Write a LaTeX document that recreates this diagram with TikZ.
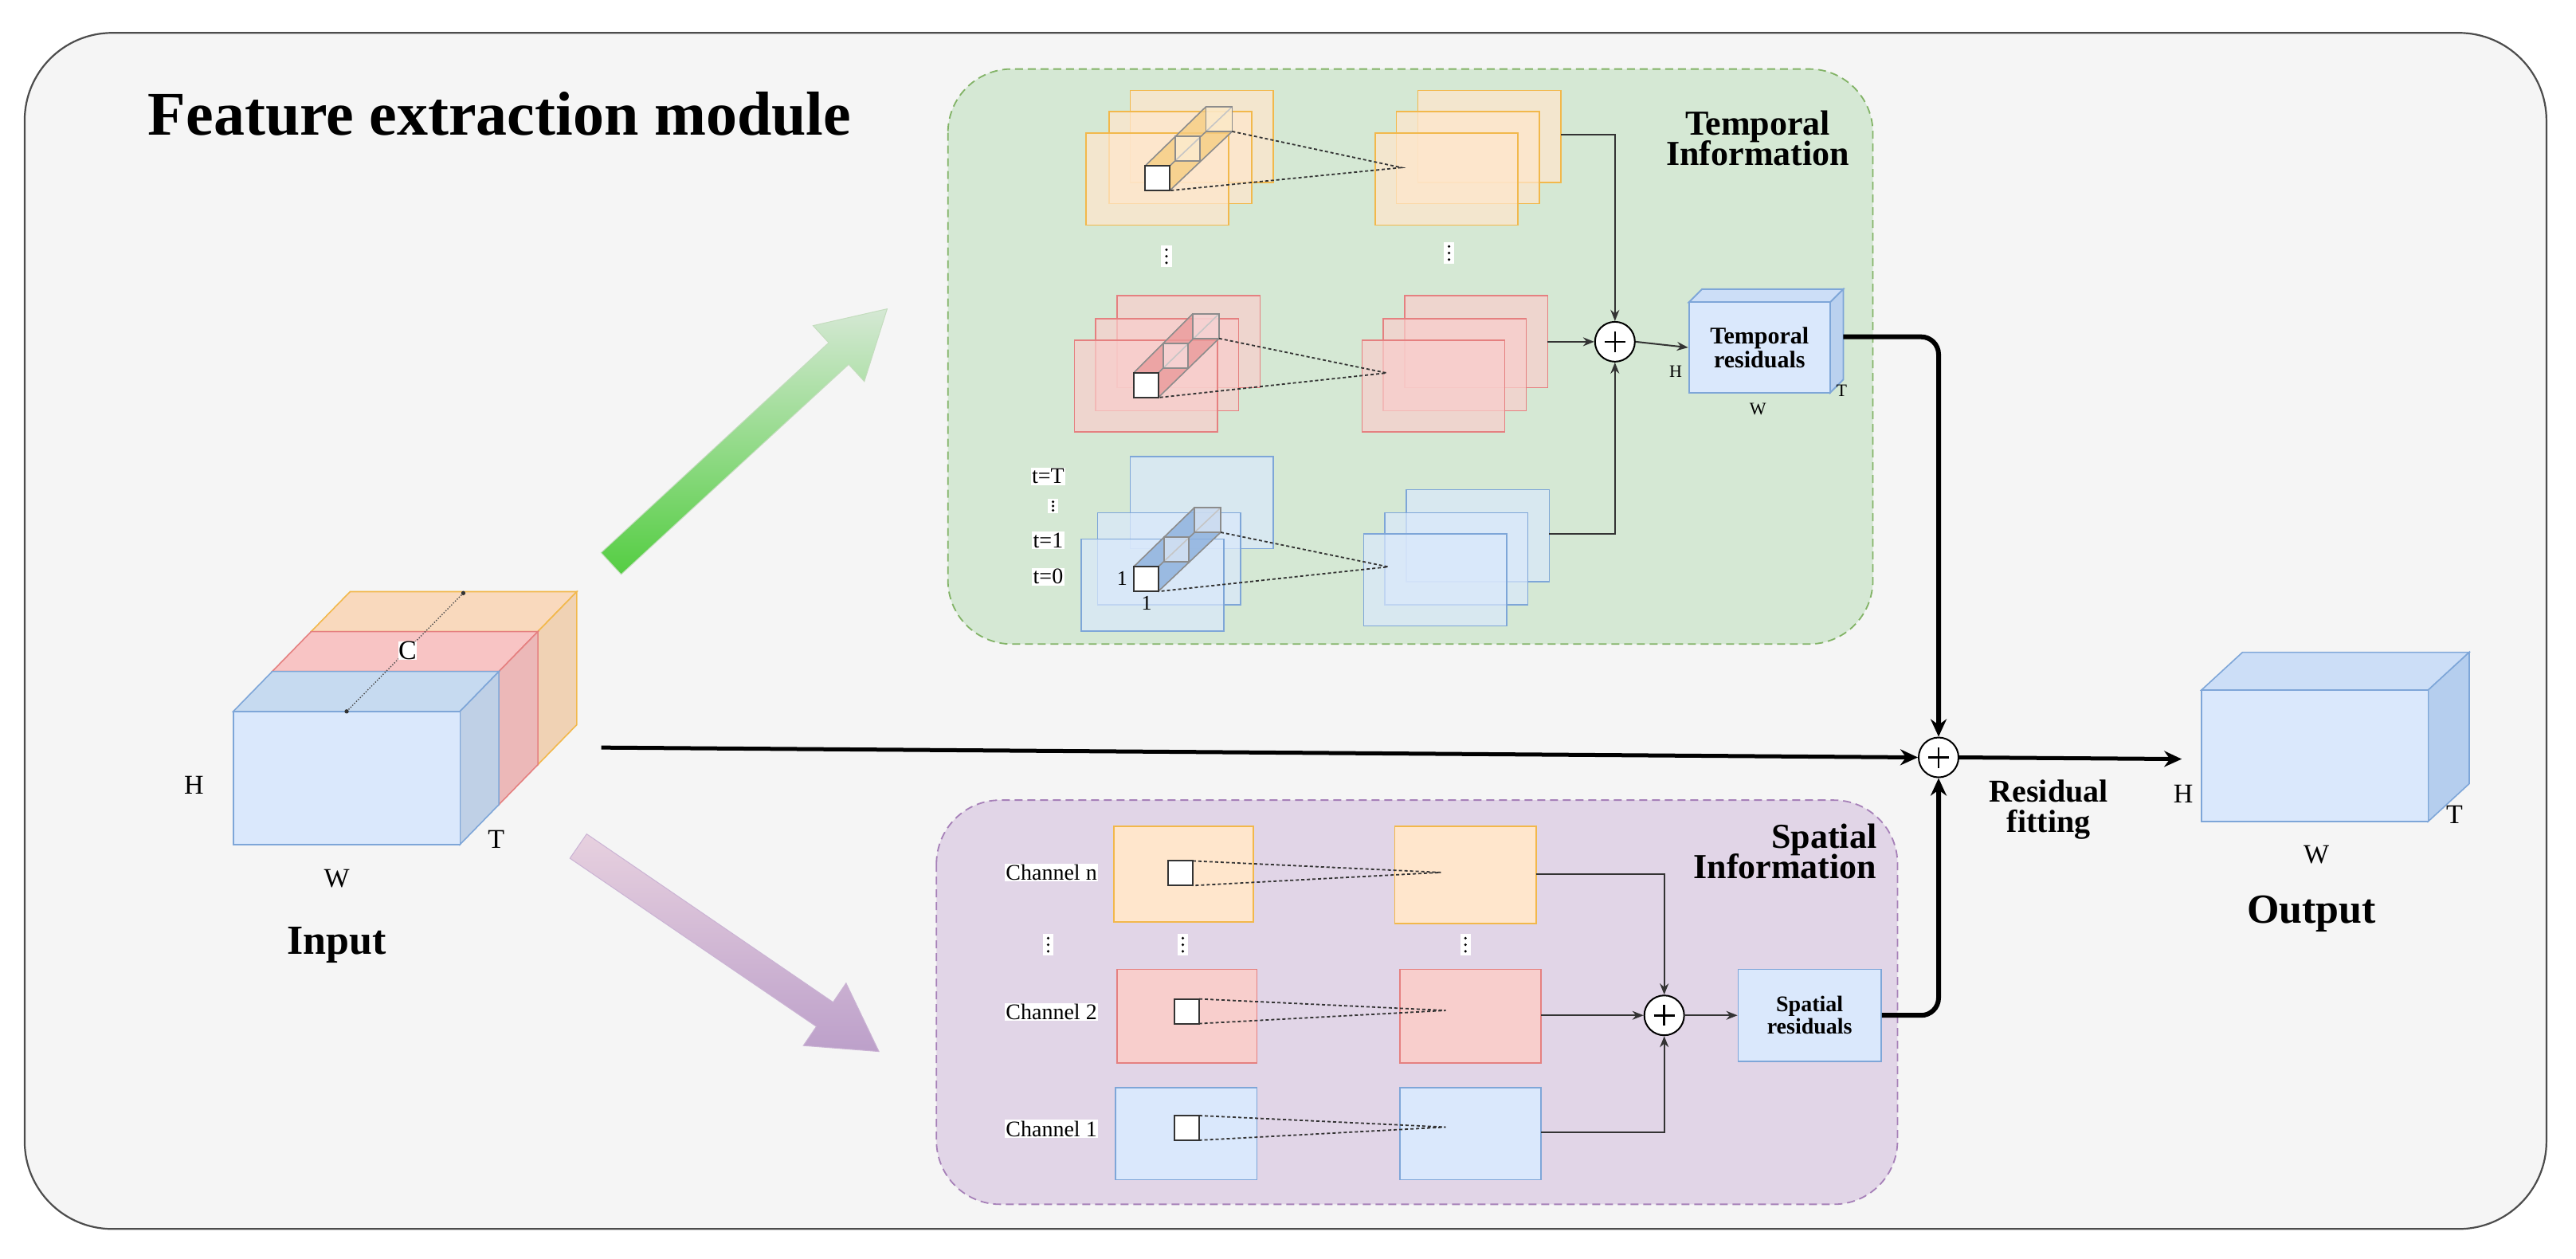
\documentclass[tikz,border=0pt]{standalone}
\usepackage{fontspec}
\setmainfont{Liberation Serif}
\usetikzlibrary{arrows.meta,calc}
\definecolor{ofill}{HTML}{FFE6CC}\definecolor{ostr}{HTML}{F2B84B}
\definecolor{rfill}{HTML}{F8CECC}\definecolor{rstr}{HTML}{E58080}
\definecolor{bfill}{HTML}{DAE8FC}\definecolor{bstr}{HTML}{7EA6D8}
\definecolor{gpanel}{HTML}{D5E8D4}\definecolor{gstr}{HTML}{82B366}
\definecolor{ppanel}{HTML}{E1D5E7}\definecolor{pstr}{HTML}{A680B8}
\definecolor{bgc}{HTML}{F5F5F5}
\newcommand\fs[1]{\fontsize{#1}{#1}\selectfont}
\newcommand\vdt[3]{\fill[white] (#1-3.2,#2-#3*1.6) rectangle (#1+3.2,#2+#3*1.6);
 \fill[black] (#1,#2-#3) circle (0.85) (#1,#2) circle (0.85) (#1,#2+#3) circle (0.85);}
\tikzset{
 sheet/.style={line width=1.6pt,fill opacity=0.72},
 os/.style={sheet,fill=ofill,draw=ostr},
 rs/.style={sheet,fill=rfill,draw=rstr},
 bs/.style={sheet,fill=bfill,draw=bstr},
 conn/.style={line width=2pt,draw=black!80,-{Stealth[length=14pt,width=11pt]}},
 thick conn/.style={line width=6pt,rounded corners=22,-{Stealth[length=22pt,width=20pt]}},
 dline/.style={line width=1.8pt,dash pattern=on 4pt off 3pt,black!80},
 plus/.style={circle,draw,fill=white,minimum size=50pt,inner sep=0pt,line width=2pt,
   path picture={\draw[line width=2.6pt] ([xshift=-13pt]path picture bounding box.center)--([xshift=13pt]path picture bounding box.center);
                 \draw[line width=2.6pt] ([yshift=-13pt]path picture bounding box.center)--([yshift=13pt]path picture bounding box.center);}},
 lab/.style={font=\fs{34}},
 wl/.style={fill=white,inner sep=1.5pt},
}
\newcommand\sheet[3]{\path[#3] (#1,#2) rectangle ++(87,56);}
\newcommand\tube[7]{%
 \fill[#5,opacity=0.8] (#1,#2)--(#3,#4)--(#3+16,#4)--(#3+16,#4+15)--(#1+15,#2+15)--(#1+15,#2)--cycle;
 \draw[line width=1.6pt,black!45] (#1,#2)--(#3,#4) (#1+15,#2)--(#3+16,#4) (#1+15,#2+15)--(#3+16,#4+15);
 \draw[line width=1.8pt,black!45,fill=white,fill opacity=0.5] ({(#1+#3)/2},{(#2+#4)/2}) rectangle ++(15,15);
 \draw[line width=1.8pt,black!45,fill=white,fill opacity=0.5] (#3,#4) rectangle ++(16,15);
 \draw[line width=2pt,black!80,fill=white] (#1,#2) rectangle ++(15,15);
 \draw[dline] (#3+16,#4+15)--(#6,#7)--(#1+15,#2+15);}
\begin{document}
\begin{tikzpicture}[x=2.062pt,y=-2.062pt]
\useasboundingbox (0,0) rectangle (1568,766);
\draw[line width=2.2pt,draw=black!70,fill=bgc,rounded corners=110pt] (15,20) rectangle (1550,748);
\node[anchor=base west,font=\fs{78}\bfseries,inner sep=0pt] (title) at (90,82) {Feature extraction module};
% ===== green panel =====
\draw[line width=1.8pt,draw=gstr,fill=gpanel,dash pattern=on 10pt off 6pt,rounded corners=80pt] (577,42) rectangle (1140,392);
\node[align=center,font=\fs{44}\bfseries] (ti) at (1070,84) {Temporal\\[-6pt]Information};
\sheet{688}{55}{os}\sheet{675}{68}{os}\sheet{661}{81}{os}
\sheet{863}{55}{os}\sheet{850}{68}{os}\sheet{837}{81}{os}
\tube{697}{101}{734}{65}{ostr!70}{853}{102}
\coordinate (r1) at (950,82);
\vdt{710}{156}{4}
\vdt{882}{154}{4}
\sheet{680}{180}{rs}\sheet{667}{194}{rs}\sheet{654}{207}{rs}
\sheet{855}{180}{rs}\sheet{842}{194}{rs}\sheet{829}{207}{rs}
\tube{690}{227}{726}{191}{rstr!80}{844}{227}
\coordinate (r2) at (942,208);
\sheet{688}{278}{bs}\sheet{668}{312}{bs}\sheet{658}{328}{bs}
\sheet{856}{298}{bs}\sheet{843}{312}{bs}\sheet{830}{325}{bs}
\tube{690}{345}{727}{309}{bstr!90}{845}{345}
\coordinate (r3) at (943,325);
\node[wl,font=\fs{28}] (tT) at (638,290) {t=T};
\vdt{641}{308}{2.6}
\node[wl,font=\fs{28}] (t1) at (638,329) {t=1};
\node[wl,font=\fs{28}] (t0) at (638,351) {t=0};
\node[font=\fs{26}] (one1) at (683,352) {1};
\node[font=\fs{26}] (one2) at (698,367) {1};
\node[plus] (p1) at (983,208) {};
\draw[conn] (r1) -| (p1.north);
\draw[conn] (r2) -- (p1.west);
\draw[conn] (r3) -| (p1.south);
\fill[bfill!85!bstr,draw=bstr,line width=1.8pt] (1028,184)--(1036,176)--(1122,176)--(1114,184)--cycle;
\fill[bfill!65!bstr,draw=bstr,line width=1.8pt] (1114,184)--(1122,176)--(1122,231)--(1114,239)--cycle;
\node[draw=bstr,fill=bfill,line width=1.8pt,minimum width=86*2.062pt,minimum height=55*2.062pt,inner sep=0pt,align=center,font=\fs{30}\bfseries] (tr) at (1071,211.5) {Temporal\\residuals};
\draw[conn] (p1.east) -- (tr.west);
\node[font=\fs{22}] (trH) at (1020,226) {H};
\node[font=\fs{22}] (trT) at (1121,238) {T};
\node[font=\fs{22}] (trW) at (1070,249) {W};
% ===== purple panel =====
\draw[line width=1.8pt,draw=pstr,fill=ppanel,dash pattern=on 10pt off 6pt,rounded corners=80pt] (570,487) rectangle (1155,733);
\node[align=right,anchor=east,font=\fs{44}\bfseries] (si) at (1144,518) {Spatial\\[-6pt]Information};
\node[wl,font=\fs{28}] (cn) at (640,531) {Channel n};
\node[wl,font=\fs{28}] (c2) at (640,616) {Channel 2};
\node[wl,font=\fs{28}] (c1) at (640,687) {Channel 1};
\vdt{638}{575}{4}
\vdt{720}{575}{4}
\vdt{892}{575}{4}
\path[os,fill opacity=1] (678,503) rectangle (763,561);
\path[os,fill opacity=1] (849,503) rectangle (935,562);
\path[rs,fill opacity=1] (680,590) rectangle (765,647);
\path[rs,fill opacity=1] (852,590) rectangle (938,647);
\path[bs,fill opacity=1] (679,662) rectangle (765,718);
\path[bs,fill opacity=1] (852,662) rectangle (938,718);
\draw[line width=2pt,black!80,fill=white] (711,524) rectangle ++(15,15);
\draw[line width=2pt,black!80,fill=white] (715,608) rectangle ++(15,15);
\draw[line width=2pt,black!80,fill=white] (715,679) rectangle ++(15,15);
\draw[dline] (726,524)--(877,531)--(726,539);
\draw[dline] (730,608)--(880,615)--(730,623);
\draw[dline] (730,679)--(880,686)--(730,694);
\coordinate (s1) at (935,532);
\coordinate (s2) at (938,618);
\coordinate (s3) at (938,689);
\node[plus] (p2) at (1013,618) {};
\draw[conn] (s1) -| (p2.north);
\draw[conn] (s2) -- (p2.west);
\draw[conn] (s3) -| (p2.south);
\node[draw=bstr,fill=bfill,line width=1.8pt,minimum width=87*2.062pt,minimum height=56*2.062pt,inner sep=0pt,align=center,font=\fs{28}\bfseries] (sr) at (1101.5,618) {Spatial\\residuals};
\draw[conn] (p2.east) -- (sr.west);
% ===== input cube =====
\foreach \k/\tc/\rc/\sc in {2/F9D9BD/F0D2B4/F2B84B,1/F8C4C4/ECB8B8/E58080,0/C6DAF0/BFD0E6/7EA6D8}{
 \definecolor{tcc}{HTML}{\tc}\definecolor{rcc}{HTML}{\rc}\definecolor{scc}{HTML}{\sc}
 \draw[line width=1.6pt,draw=scc,fill=tcc] (142+\k*23.7,433-\k*24.3)--(142+\k*23.7+23.7,433-\k*24.3-24.3)--(280+\k*23.7+23.7,433-\k*24.3-24.3)--(280+\k*23.7,433-\k*24.3)--cycle;
 \draw[line width=1.6pt,draw=scc,fill=rcc] (280+\k*23.7,433-\k*24.3)--(280+\k*23.7+23.7,433-\k*24.3-24.3)--(280+\k*23.7+23.7,514-\k*24.3-24.3)--(280+\k*23.7,514-\k*24.3)--cycle;
}
\draw[line width=1.6pt,draw=bstr,fill=bfill] (142,433) rectangle (280,514);
\draw[line width=1.4pt,dotted,black!70] (211,433)--(282,361);
\fill[black!80] (211,433) circle (1.3) (282,361) circle (1.3);
\node[wl,font=\fs{34},inner sep=0.5pt] (C) at (248,396) {C};
\node[lab] (iH) at (118,478) {H};
\node[lab] (iW) at (205,535) {W};
\node[lab] (iT) at (302,511) {T};
\node[font=\fs{52}\bfseries] (inp) at (205,575) {Input};
\coordinate (in) at (366,455);
% ===== big arrows =====
\shade[top color=gpanel,bottom color=green!35!gstr,draw=gpanel!80!gstr,line width=1pt]
 (365.9,336.4)--(504.4,208.6)--(494.9,198.2)--(540,188)--(526.1,232.2)--(516.6,221.8)--(378.1,349.6)--cycle;
\shade[top color=ppanel!80!pink,bottom color=pstr!75,draw=pstr!60,line width=1pt]
 (346.9,522.4)--(357.1,507.6)--(507.1,610.0)--(515,598.4)--(535,640)--(489,636.4)--(496.9,624.8)--cycle;
% ===== sum & output =====
\node[plus] (sum) at (1180,461) {};
\draw[line width=5pt,-{Stealth[length=22pt,width=20pt]}] (in) -- (sum.west);
\draw[thick conn] (1122,205) -| (sum.north);
\draw[thick conn] (sr.east) -| (sum.south);
\node[align=center,font=\fs{40}\bfseries] (rf) at (1247,493) {Residual\\[-2pt]fitting};
\coordinate (outin) at (1328,462);
\draw[line width=5pt,-{Stealth[length=22pt,width=20pt]}] (sum.east) -- (outin);
\draw[line width=1.6pt,draw=bstr,fill=bfill!85!bstr] (1340,420)--(1365,397)--(1503,397)--(1478,420)--cycle;
\draw[line width=1.6pt,draw=bstr,fill=bfill!60!bstr] (1478,420)--(1503,397)--(1503,477)--(1478,500)--cycle;
\draw[line width=1.6pt,draw=bstr,fill=bfill] (1340,420) rectangle (1478,500);
\node[lab] (oH) at (1329,483) {H};
\node[lab] (oW) at (1410,520) {W};
\node[lab] (oT) at (1494,496) {T};
\node[font=\fs{52}\bfseries] (outp) at (1407,556) {Output};
\end{tikzpicture}
\end{document}
